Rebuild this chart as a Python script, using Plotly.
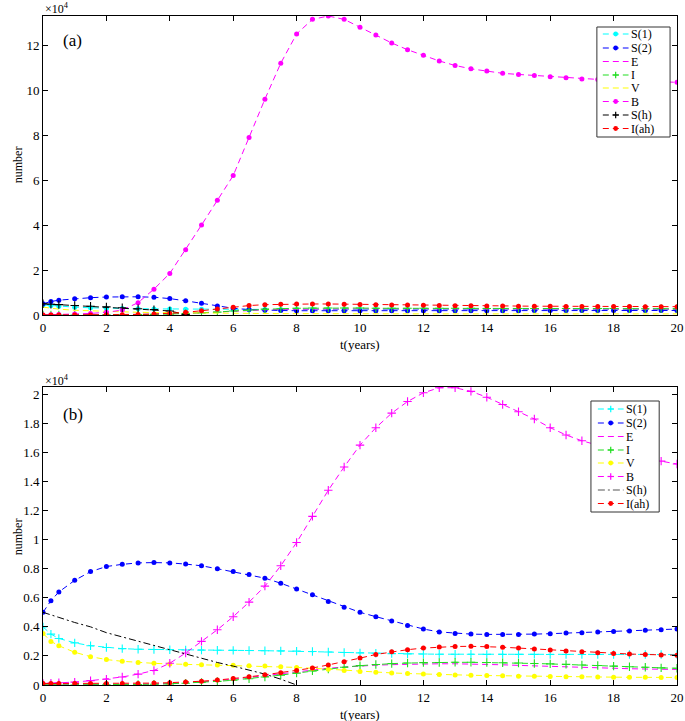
import plotly.graph_objects as go

# time points (years)
T = [0, 0.25, 0.5, 1, 1.5, 2, 2.5, 3, 3.5, 4, 4.5, 5, 5.5, 6, 6.5, 7, 7.5, 8, 8.5, 9, 9.5,
     10, 10.5, 11, 11.5, 12, 12.5, 13, 13.5, 14, 14.5, 15, 15.5, 16, 16.5, 17, 17.5, 18, 18.5,
     19, 19.5, 20]

# ---------------- panel (a), values in units of 1e4 ----------------
a_S1 = [0.45, 0.42, 0.39, 0.35, 0.32, 0.30, 0.29, 0.28, 0.27, 0.27, 0.26, 0.26, 0.25, 0.25, 0.25,
        0.25, 0.25, 0.25, 0.25, 0.25, 0.25, 0.25, 0.25, 0.25, 0.25, 0.25, 0.25, 0.25, 0.25, 0.25,
        0.25, 0.25, 0.25, 0.25, 0.25, 0.25, 0.25, 0.25, 0.25, 0.25, 0.25, 0.25]
a_S2 = [0.50, 0.60, 0.66, 0.72, 0.77, 0.80, 0.81, 0.81, 0.79, 0.73, 0.63, 0.52, 0.40, 0.30, 0.24,
        0.21, 0.20, 0.19, 0.19, 0.19, 0.19, 0.19, 0.19, 0.19, 0.19, 0.19, 0.19, 0.19, 0.19, 0.19,
        0.19, 0.19, 0.20, 0.20, 0.20, 0.20, 0.20, 0.20, 0.20, 0.20, 0.20, 0.20]
a_E = [0.0, 0.0, 0.0, 0.0, 0.01, 0.01, 0.02, 0.03, 0.04, 0.05, 0.07, 0.10, 0.13, 0.17, 0.20,
       0.23, 0.25, 0.26, 0.27, 0.27, 0.27, 0.27, 0.27, 0.27, 0.27, 0.27, 0.27, 0.26, 0.26, 0.26,
       0.26, 0.26, 0.26, 0.26, 0.26, 0.26, 0.26, 0.26, 0.26, 0.26, 0.26, 0.26]
a_I = [0.0, 0.0, 0.0, 0.0, 0.0, 0.01, 0.01, 0.02, 0.03, 0.04, 0.06, 0.09, 0.13, 0.18, 0.22,
       0.26, 0.28, 0.30, 0.31, 0.31, 0.31, 0.31, 0.30, 0.30, 0.30, 0.30, 0.30, 0.30, 0.30, 0.29,
       0.29, 0.29, 0.29, 0.29, 0.29, 0.29, 0.29, 0.29, 0.28, 0.28, 0.28, 0.28]
a_V = [0.35, 0.30, 0.26, 0.21, 0.18, 0.16, 0.14, 0.12, 0.11, 0.10, 0.09, 0.08, 0.07, 0.065, 0.06,
       0.06, 0.06, 0.06, 0.055, 0.055, 0.055, 0.055, 0.055, 0.05, 0.05, 0.05, 0.05, 0.05, 0.05, 0.05,
       0.05, 0.05, 0.05, 0.05, 0.05, 0.05, 0.05, 0.05, 0.05, 0.05, 0.05, 0.05]
a_B = [0.0, 0.01, 0.02, 0.04, 0.07, 0.12, 0.22, 0.55, 1.15, 1.85, 2.9, 4.0, 5.1, 6.2, 7.9,
       9.6, 11.2, 12.5, 13.15, 13.3, 13.15, 12.8, 12.45, 12.1, 11.8, 11.55, 11.3, 11.1, 10.95, 10.85,
       10.75, 10.7, 10.65, 10.6, 10.55, 10.5, 10.48, 10.45, 10.42, 10.4, 10.38, 10.35]
a_Sh = [0.50, 0.48, 0.46, 0.42, 0.39, 0.36, 0.32, 0.28, 0.24, 0.18, 0.02, None, None, None, None,
        None, None, None, None, None, None, None, None, None, None, None, None, None, None, None,
        None, None, None, None, None, None, None, None, None, None, None, None]
a_Iah = [0.0, 0.0, 0.0, 0.0, 0.0, 0.01, 0.01, 0.02, 0.04, 0.07, 0.12, 0.19, 0.27, 0.35, 0.42,
         0.46, 0.48, 0.49, 0.49, 0.49, 0.48, 0.47, 0.46, 0.45, 0.44, 0.43, 0.42, 0.41, 0.41, 0.40,
         0.40, 0.39, 0.39, 0.39, 0.38, 0.38, 0.38, 0.38, 0.38, 0.37, 0.37, 0.37]

# ---------------- panel (b), values in units of 1e4 ----------------
b_S1 = [0.40, 0.35, 0.32, 0.29, 0.27, 0.258, 0.25, 0.246, 0.244, 0.242, 0.241, 0.24, 0.239, 0.238,
        0.237, 0.236, 0.235, 0.233, 0.23, 0.227, 0.224, 0.221, 0.218, 0.216, 0.214, 0.213, 0.212,
        0.212, 0.212, 0.211, 0.211, 0.211, 0.211, 0.21, 0.21, 0.21, 0.21, 0.21, 0.21, 0.21, 0.21, 0.21]
b_S2 = [0.50, 0.58, 0.64, 0.72, 0.78, 0.815, 0.83, 0.84, 0.842, 0.84, 0.832, 0.82, 0.80, 0.78,
        0.76, 0.735, 0.70, 0.66, 0.62, 0.575, 0.535, 0.50, 0.47, 0.44, 0.41, 0.385, 0.365, 0.355,
        0.35, 0.348, 0.347, 0.348, 0.35, 0.353, 0.357, 0.36, 0.364, 0.368, 0.372, 0.376, 0.38, 0.385]
b_E = [0.0, 0.0, 0.0, 0.001, 0.002, 0.003, 0.004, 0.005, 0.007, 0.01, 0.015, 0.022, 0.03, 0.04,
       0.052, 0.065, 0.078, 0.09, 0.103, 0.115, 0.124, 0.132, 0.136, 0.14, 0.143, 0.145, 0.146,
       0.146, 0.145, 0.143, 0.139, 0.135, 0.131, 0.127, 0.123, 0.12, 0.117, 0.114, 0.112, 0.11,
       0.108, 0.107]
b_I = [0.0, 0.0, 0.0, 0.0, 0.001, 0.001, 0.002, 0.003, 0.005, 0.008, 0.012, 0.018, 0.025, 0.033,
       0.043, 0.055, 0.068, 0.082, 0.097, 0.11, 0.122, 0.133, 0.141, 0.147, 0.151, 0.154, 0.155,
       0.156, 0.156, 0.155, 0.153, 0.151, 0.148, 0.145, 0.142, 0.138, 0.134, 0.13, 0.126, 0.122,
       0.118, 0.115]
b_V = [0.355, 0.30, 0.27, 0.225, 0.195, 0.175, 0.163, 0.155, 0.149, 0.145, 0.142, 0.14, 0.138,
       0.136, 0.133, 0.13, 0.126, 0.121, 0.115, 0.108, 0.10, 0.093, 0.088, 0.083, 0.079, 0.075,
       0.072, 0.069, 0.067, 0.065, 0.063, 0.061, 0.06, 0.058, 0.057, 0.056, 0.055, 0.054, 0.053,
       0.053, 0.052, 0.052]
b_B = [0.01, 0.012, 0.015, 0.02, 0.03, 0.04, 0.055, 0.075, 0.10, 0.15, 0.22, 0.30, 0.38, 0.47,
       0.57, 0.68, 0.82, 0.98, 1.16, 1.34, 1.50, 1.65, 1.77, 1.87, 1.95, 2.01, 2.045, 2.045, 2.02,
       1.98, 1.93, 1.88, 1.83, 1.77, 1.72, 1.68, 1.65, 1.62, 1.59, 1.56, 1.54, 1.52]
b_Sh = [0.50, 0.485, 0.465, 0.43, 0.40, 0.36, 0.33, 0.30, 0.27, 0.24, 0.21, 0.18, 0.155, 0.13,
        0.105, 0.075, 0.04, 0.0, None, None, None, None, None, None, None, None, None, None, None,
        None, None, None, None, None, None, None, None, None, None, None, None, None]
b_Iah = [0.01, 0.01, 0.01, 0.01, 0.01, 0.01, 0.011, 0.011, 0.013, 0.016, 0.02, 0.026, 0.034,
         0.044, 0.056, 0.07, 0.084, 0.099, 0.117, 0.138, 0.16, 0.185, 0.21, 0.228, 0.243, 0.254,
         0.261, 0.265, 0.266, 0.264, 0.26, 0.254, 0.248, 0.241, 0.234, 0.228, 0.222, 0.217, 0.213,
         0.21, 0.207, 0.205]

NAMES = ["S(1)", "S(2)", "E", "I", "V", "B", "S(h)", "I(ah)"]

FONT = "Liberation Serif, Times New Roman, serif"
CYAN, BLUE, MAG, GREEN, YEL, RED, BLK = "#00FFFF", "#0000FF", "#FF00FF", "#22DD22", "#FFFF00", "#FF0000", "#000000"
DASH = "6px,4px"
DASHDOT = "7px,3px,2px,3px"

a_specs = [
    (a_S1, CYAN, DASH, "star"),
    (a_S2, BLUE, DASH, "star"),
    (a_E, MAG, DASH, None),
    (a_I, GREEN, DASH, "plus"),
    (a_V, YEL, DASH, None),
    (a_B, MAG, DASH, "star"),
    (a_Sh, BLK, DASH, "plus"),
    (a_Iah, RED, DASH, "star"),
]
b_specs = [
    (b_S1, CYAN, DASH, "plus"),
    (b_S2, BLUE, DASH, "star"),
    (b_E, MAG, DASH, None),
    (b_I, GREEN, DASH, "plus"),
    (b_V, YEL, DASH, "star"),
    (b_B, MAG, DASH, "plus"),
    (b_Sh, "#555555", DASHDOT, None),
    (b_Iah, RED, DASH, "star"),
]

fig = go.Figure()


def marker_style(mk, col):
    if mk == "star":
        return dict(symbol="circle", size=5, color=col, line=dict(width=0))
    if mk == "plus":
        return dict(symbol="cross-thin-open", size=6, color=col, line=dict(width=1.1, color=col))
    return None


def add(specs, xa, ya):
    for name, (vals, col, dash, mk) in zip(NAMES, specs):
        if col == "#555555":
            col = BLK
        m = marker_style(mk, col)
        kw = dict(x=T, y=vals, name=name, xaxis=xa, yaxis=ya, showlegend=False,
                  line=dict(color=col, width=1, dash=dash), connectgaps=False)
        if m is None:
            kw["mode"] = "lines"
        else:
            kw["mode"] = "lines+markers"
            kw["marker"] = m
        fig.add_trace(go.Scatter(**kw))


add(a_specs, "x", "y")
add(b_specs, "x2", "y2")

axis_common = dict(showline=True, linecolor="black", linewidth=1, mirror="ticks",
                   ticks="inside", ticklen=5, tickcolor="black", showgrid=False,
                   zeroline=False, tickfont=dict(family=FONT, size=13, color="black"))

# page margin removed by post_script, so window px == figure px
W, H = 685, 721
L, T_M, PW, PH = 43, 16, 641, 669


def px_x(X):
    return (X - L) / PW


def px_y(Y):
    return (T_M + PH - Y) / PH


top_dom = [px_y(315), 1.0]
bot_dom = [0.0, px_y(387)]

fig.update_layout(
    width=W, height=H,
    margin=dict(l=L, r=W - L - PW, t=T_M, b=H - T_M - PH),
    paper_bgcolor="white", plot_bgcolor="white",
    font=dict(family=FONT, size=12, color="black"),
    xaxis=dict(domain=[0, 1], range=[0, 20], tickvals=list(range(0, 21, 2)), anchor="y",
               ticklabeloverflow="allow", **axis_common),
    yaxis=dict(domain=top_dom, range=[0, 13.3], tickvals=[0, 2, 4, 6, 8, 10, 12], anchor="x", **axis_common),
    xaxis2=dict(domain=[0, 1], range=[0, 20], tickvals=list(range(0, 21, 2)), anchor="y2",
                ticklabeloverflow="allow", **axis_common),
    yaxis2=dict(domain=bot_dom, range=[0, 2.05], tickvals=[0, 0.2, 0.4, 0.6, 0.8, 1, 1.2, 1.4, 1.6, 1.8, 2],
                anchor="x2", **axis_common),
    showlegend=False,
)

shapes = []
ann = []


def build_legend(specs, box, rows, x_line, x_mark, x_text):
    x0, y0, x1, y1 = box
    shapes.append(dict(type="rect", xref="paper", yref="paper", x0=px_x(x0), x1=px_x(x1),
                       y0=px_y(y1), y1=px_y(y0), fillcolor="white",
                       line=dict(color="#333333", width=1)))
    for name, (vals, col, dash, mk), yr in zip(NAMES, specs, rows):
        shapes.append(dict(type="line", xref="paper", yref="paper",
                           x0=px_x(x_line[0]), x1=px_x(x_line[1]), y0=px_y(yr), y1=px_y(yr),
                           line=dict(color=col, width=1.2, dash=dash)))
        if mk == "star":
            r = 2.4
            shapes.append(dict(type="circle", xref="paper", yref="paper",
                               x0=px_x(x_mark - r), x1=px_x(x_mark + r),
                               y0=px_y(yr + r), y1=px_y(yr - r), fillcolor=col,
                               line=dict(color=col, width=0)))
        elif mk == "plus":
            h = 3.2
            shapes.append(dict(type="line", xref="paper", yref="paper",
                               x0=px_x(x_mark - h), x1=px_x(x_mark + h), y0=px_y(yr), y1=px_y(yr),
                               line=dict(color=col, width=1.2)))
            shapes.append(dict(type="line", xref="paper", yref="paper",
                               x0=px_x(x_mark), x1=px_x(x_mark), y0=px_y(yr - h), y1=px_y(yr + h),
                               line=dict(color=col, width=1.2)))
        ann.append(dict(text=name, xref="paper", yref="paper", x=px_x(x_text), y=px_y(yr),
                        xanchor="left", yanchor="middle", showarrow=False,
                        font=dict(family=FONT, size=12, color="black")))


build_legend(a_specs, (603, 27, 677, 137),
             [34, 48, 61.5, 75, 88, 101.5, 115, 128.5], (609, 635), 622, 635)
build_legend(b_specs, (597, 401, 666, 512),
             [409, 423, 436.5, 450, 463, 476.5, 490, 503.5], (604, 630), 617, 630)

ann += [
    dict(text="(a)", xref="paper", yref="paper", x=px_x(61), y=px_y(41), xanchor="left", yanchor="middle",
         showarrow=False, font=dict(family=FONT, size=17)),
    dict(text="(b)", xref="paper", yref="paper", x=px_x(61), y=px_y(415), xanchor="left", yanchor="middle",
         showarrow=False, font=dict(family=FONT, size=17)),
    dict(text="×10<sup>4</sup>", xref="paper", yref="paper", x=px_x(43), y=px_y(9), xanchor="left",
         yanchor="middle", showarrow=False, font=dict(family=FONT, size=12)),
    dict(text="×10<sup>4</sup>", xref="paper", yref="paper", x=px_x(43), y=px_y(380), xanchor="left",
         yanchor="middle", showarrow=False, font=dict(family=FONT, size=12)),
    dict(text="number", xref="paper", yref="paper", x=px_x(18), y=px_y(165), textangle=-90, showarrow=False,
         xanchor="center", yanchor="middle", font=dict(family=FONT, size=12)),
    dict(text="number", xref="paper", yref="paper", x=px_x(18), y=px_y(537), textangle=-90, showarrow=False,
         xanchor="center", yanchor="middle", font=dict(family=FONT, size=12)),
    dict(text="t(years)", xref="paper", yref="paper", x=px_x(363), y=px_y(344), xanchor="center",
         yanchor="middle", showarrow=False, font=dict(family=FONT, size=13)),
    dict(text="t(years)", xref="paper", yref="paper", x=px_x(363), y=px_y(714), xanchor="center",
         yanchor="middle", showarrow=False, font=dict(family=FONT, size=13)),
]
fig.update_layout(annotations=ann, shapes=shapes)

fig.write_html("out.html", config={"displayModeBar": False},
               post_script="document.body.style.margin='0px';")
